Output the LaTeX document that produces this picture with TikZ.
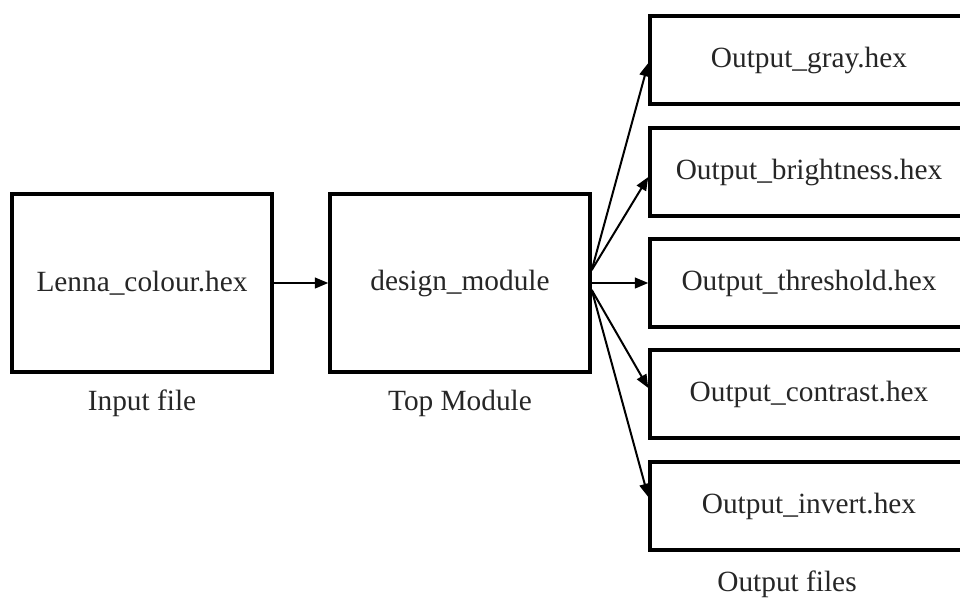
\documentclass[tikz,border=0pt]{standalone}
\usepackage{fontspec}
\setmainfont{Liberation Serif}
\usetikzlibrary{arrows.meta,calc}
\tikzset{
  box/.style={draw=black, line width=2.6pt, fill=white, inner sep=0pt, text=black!85, font=\fontsize{22}{26}\selectfont},
  inbox/.style={box, minimum width=195pt, minimum height=133.5pt},
  outbox/.style={box, minimum width=238.5pt, minimum height=66pt},
  lbl/.style={text=black!85, font=\fontsize{22}{26}\selectfont, inner sep=0pt},
  conn/.style={line width=1.5pt, -{Triangle[length=10pt,width=8pt]}}
}
\begin{document}
\begin{tikzpicture}[x=0.75pt,y=-0.75pt]
\useasboundingbox (0,0) rectangle (960,597);
\clip (0,0) rectangle (960,597);
\node[inbox] (a) at (142,283) {Lenna\_colour.hex};
\node[inbox] (b) at (460,283) {design\_module};
\node[outbox] (o1) at (809,60) {Output\_gray.hex};
\node[outbox] (o2) at (809,172) {Output\_brightness.hex};
\node[outbox] (o3) at (809,283) {Output\_threshold.hex};
\node[outbox] (o4) at (809,394) {Output\_contrast.hex};
\node[outbox] (o5) at (809,506) {Output\_invert.hex};
\node[lbl] (la) at (142,403) {Input file};
\node[lbl] (lb) at (460,403) {Top Module};
\node[lbl] (lc) at (787,584) {Output files};
\coordinate (su) at ($(b.east)+(0,-13)$);
\coordinate (sd) at ($(b.east)+(0,7)$);
\draw[conn] (a.east) -- (b.west);
\draw[conn] (su) -- ($(o1.west)+(0,3)$);
\draw[conn] (su) -- ($(o2.west)+(0,5)$);
\draw[conn] (b.east) -- (o3.west);
\draw[conn] (sd) -- ($(o4.west)+(0,-6)$);
\draw[conn] (sd) -- ($(o5.west)+(0,-9)$);
\end{tikzpicture}
\end{document}
